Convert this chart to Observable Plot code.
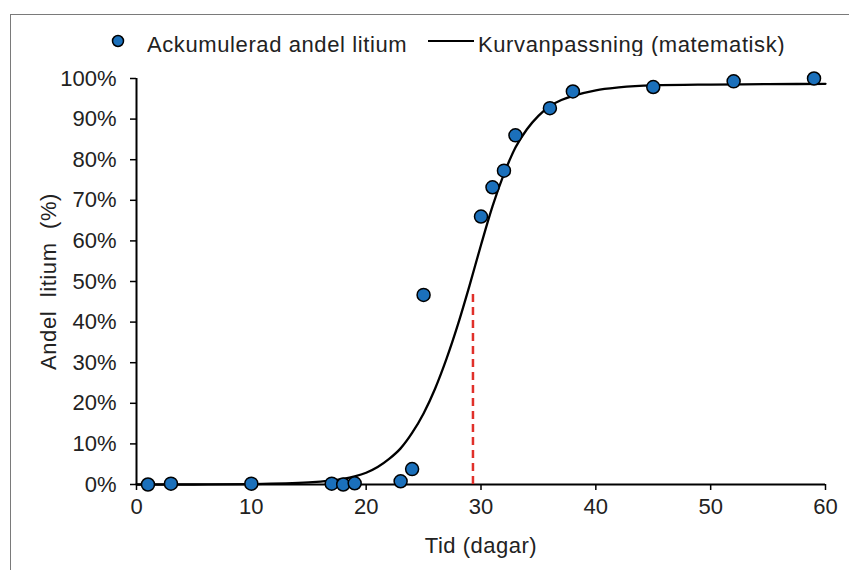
<!DOCTYPE html>
<html><head><meta charset="utf-8">
<script src="https://cdn.jsdelivr.net/npm/d3@7"></script>
<script src="https://cdn.jsdelivr.net/npm/@observablehq/plot@0.6"></script>
<style>
body{margin:0;background:#fff;}
#wrap{position:relative;width:849px;height:570px;overflow:hidden;font-family:"Liberation Sans",Arial,sans-serif;color:#222;}
#frame{position:absolute;left:10px;top:14px;width:860px;height:600px;border-left:1.5px solid #7a7a7a;border-top:1.5px solid #7a7a7a;box-sizing:border-box;}
#chart{position:absolute;left:0;top:0;}
.leg{position:absolute;font-size:22px;letter-spacing:0.6px;line-height:24px;white-space:nowrap;overflow:hidden;height:23px;}
#chart svg g[aria-label="y-axis label"] text{letter-spacing:0.6px;}
#chart svg g[aria-label="x-axis label"] text{letter-spacing:0.5px;}
</style></head>
<body>
<div id="wrap">
  <div id="frame"></div>
  <div id="chart"></div>
  <svg style="position:absolute;left:110px;top:33px" width="16" height="16"><circle cx="8" cy="8" r="5.5" fill="#1b70bb" stroke="#000" stroke-width="1.5"/></svg>
  <div class="leg" style="left:147px;top:33px">Ackumulerad andel litium</div>
  <svg style="position:absolute;left:428px;top:36px" width="46" height="10"><line x1="0" x2="46" y1="5" y2="5" stroke="#000" stroke-width="2"/></svg>
  <div class="leg" style="left:478px;top:33px">Kurvanpassning (matematisk)</div>
</div>
<script>
// Measured data points (day, cumulative share of lithium in %)
const days   = [1, 3, 10, 17, 18, 19, 23, 24, 25, 30, 31, 32, 33, 36, 38, 45, 52, 59];
const shares = [0, 0.2, 0.2, 0.2, 0, 0.3, 0.8, 3.8, 46.7, 66, 73.2, 77.3, 86, 92.7, 96.8, 97.9, 99.3, 100];

// Fitted curve (day, %)
const curveDays   = [0, 5, 10, 15, 17, 18, 19, 20, 21, 22, 23, 24, 25, 26, 27, 28, 29, 30, 31, 32, 33, 34, 35, 36, 37, 38, 40, 42, 45, 50, 55, 60];
const curveShares = [0, 0, 0.1, 0.5, 1.0, 1.4, 2.0, 2.9, 4.3, 6.3, 8.9, 12.7, 17.5, 23.6, 31, 39.5, 49, 59, 68.5, 76.5, 83, 87.5, 90.8, 93.2, 94.7, 95.7, 97.1, 97.8, 98.3, 98.5, 98.6, 98.7];

// Red dashed marker (day at ~half of curve)
const markerDay = [29.3];
const markerTop = 47;

const xTicks = [0, 10, 20, 30, 40, 50, 60];
const yTicks = [0, 10, 20, 30, 40, 50, 60, 70, 80, 90, 100];

const points = days.map((d, i) => ({day: d, share: shares[i]}));
const curve = curveDays.map((d, i) => ({day: d, share: curveShares[i]}));

const plot = Plot.plot({
  width: 849,
  height: 570,
  marginLeft: 136,
  marginRight: 24,
  marginTop: 78,
  marginBottom: 86,
  style: {fontFamily: "Liberation Sans, Arial, sans-serif", fontSize: "21px", color: "#222", background: "transparent"},
  x: {domain: [0, 60], ticks: xTicks, label: null},
  y: {domain: [0, 100], ticks: yTicks, label: null},
  marks: [
    Plot.axisX({ticks: xTicks, tickSize: 6, tickPadding: 8, tickFormat: d => d, label: "Tid (dagar)", labelAnchor: "center", labelArrow: "none", labelOffset: 68, fontSize: 22, stroke: "#000", strokeWidth: 1.5, color: "#222"}),
    Plot.axisY({ticks: yTicks, tickSize: 6, tickPadding: 14, tickFormat: d => d + "%", label: "Andel  litium  (%)", labelAnchor: "center", labelArrow: "none", labelOffset: 96, fontSize: 22, stroke: "#000", strokeWidth: 1.5, color: "#222"}),
    Plot.ruleY([0], {stroke: "#000", strokeWidth: 2}),
    Plot.ruleX([0], {stroke: "#000", strokeWidth: 2}),
    Plot.ruleX(markerDay, {y1: 0, y2: markerTop, stroke: "#e0302a", strokeWidth: 2.5, strokeDasharray: "8,5"}),
    Plot.line(curve, {x: "day", y: "share", curve: "monotone-x", stroke: "#000", strokeWidth: 2.3}),
    Plot.dot(points, {x: "day", y: "share", r: 6.5, fill: "#1b70bb", stroke: "#000", strokeWidth: 1.5})
  ]
});
document.getElementById("chart").appendChild(plot);
</script>
</body></html>
